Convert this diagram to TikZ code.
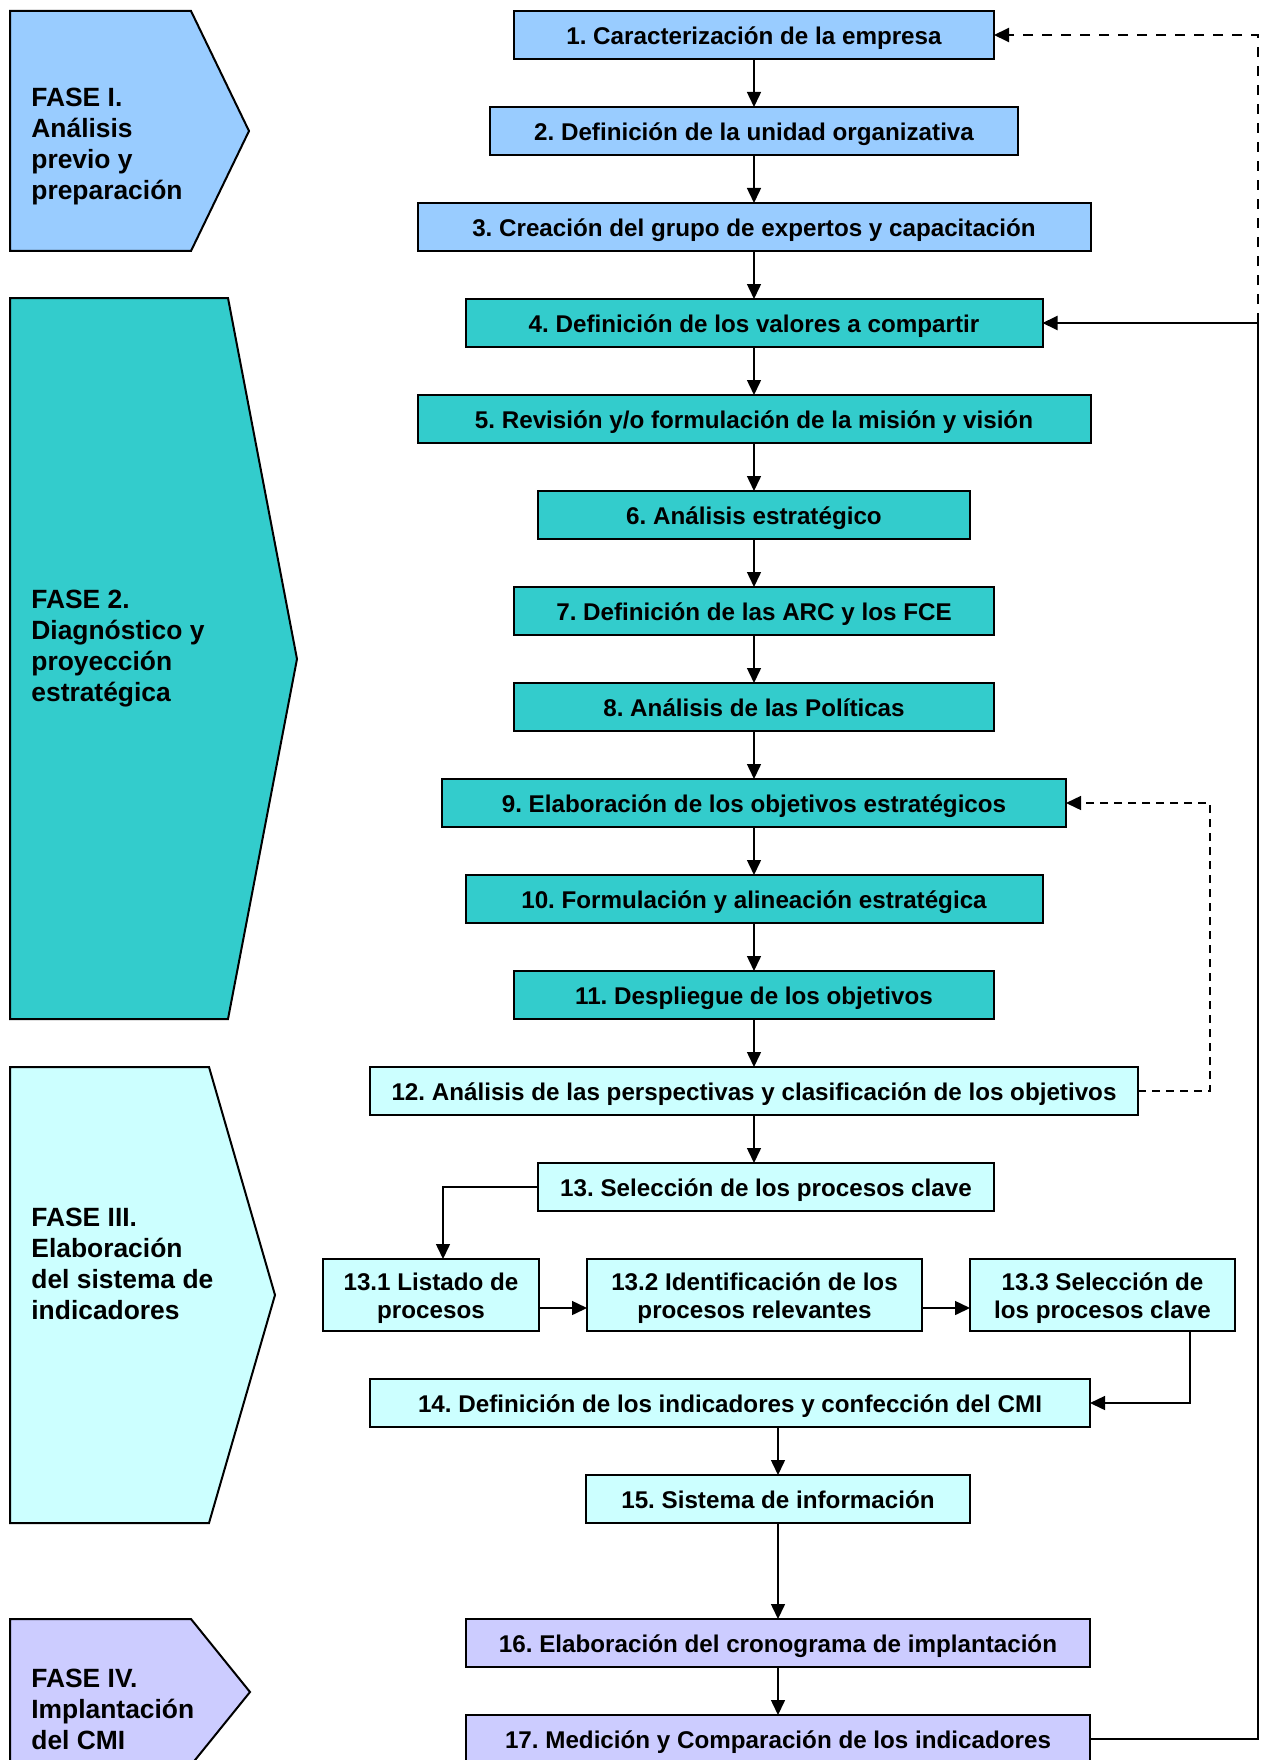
\documentclass[tikz,border=0pt]{standalone}
\usepackage{fontspec}
\setmainfont{Liberation Sans}
\usetikzlibrary{arrows.meta}
\frenchspacing

\definecolor{phaseA}{HTML}{99CCFF}
\definecolor{phaseB}{HTML}{33CCCC}
\definecolor{phaseC}{HTML}{CCFFFF}
\definecolor{phaseD}{HTML}{CCCCFF}

\tikzset{
  stepbox/.style={draw=black, line width=1pt, inner sep=0pt, outer sep=0pt,
    minimum height=24pt, align=center, text height=10.6pt, text depth=0.7pt,
    font=\bfseries\fontsize{12.1}{14}\selectfont},
  twoline/.style={stepbox, minimum height=36pt, text height=29pt, text depth=6pt},
  phase/.style={draw=black, line width=1pt, line join=miter},
  phasetext/.style={anchor=west, inner sep=0pt, align=left,
    font=\bfseries\fontsize{13.2}{15.5}\selectfont},
  flow/.style={line width=0.75pt, -{Triangle[length=7.5pt,width=7pt]}},
  feedback/.style={line width=1pt, -{Triangle[length=7.5pt,width=7pt]}},
  dflow/.style={feedback, dash pattern=on 5pt off 4.5pt},
  dflowthin/.style={line width=0.75pt, -{Triangle[length=7.5pt,width=7pt]},
    dash pattern=on 4pt off 3pt},
}

\begin{document}
\begin{tikzpicture}[x=0.5pt, y=-0.5pt]
\useasboundingbox (0,0) rectangle (1266,1760);
\clip (0,0) rectangle (1266,1760);
\fill[white] (0,0) rectangle (1266,1760);

% phase arrows on the left
\draw[phase, fill=phaseA] (10,11) -- (191,11) -- (249,131) -- (191,251) -- (10,251) -- cycle;
\draw[phase, fill=phaseB] (10,298) -- (228,298) -- (297,659) -- (228,1019) -- (10,1019) -- cycle;
\draw[phase, fill=phaseC] (10,1067) -- (209,1067) -- (275,1295) -- (209,1523) -- (10,1523) -- cycle;
\draw[phase, fill=phaseD] (10,1619) -- (191,1619) -- (250,1692) -- (191,1765) -- (10,1765) -- cycle;

\node[phasetext] (f1) at (31,147) {FASE I.\\Análisis\\previo y\\preparación};
\node[phasetext] (f2) at (31,649) {FASE 2.\\Diagnóstico y\\proyección\\estratégica};
\node[phasetext] (f3) at (31,1264) {FASE III.\\Elaboración\\del sistema de\\indicadores};
\node[phasetext] (f4) at (31,1709) {FASE IV.\\Implantación\\del CMI};

% steps
\node[stepbox, fill=phaseA, minimum width=240pt] (b1) at (754,35) {1. Caracterización de la empresa};
\node[stepbox, fill=phaseA, minimum width=264pt] (b2) at (754,131) {2. Definición de la unidad organizativa};
\node[stepbox, fill=phaseA, minimum width=336.5pt] (b3) at (754,227) {3. Creación del grupo de expertos y capacitación};
\node[stepbox, fill=phaseB, minimum width=288.5pt] (b4) at (754,323) {4. Definición de los valores a compartir};
\node[stepbox, fill=phaseB, minimum width=336.5pt] (b5) at (754,419) {5. Revisión y/o formulación de la misión y visión};
\node[stepbox, fill=phaseB, minimum width=216pt] (b6) at (754,515) {6. Análisis estratégico};
\node[stepbox, fill=phaseB, minimum width=240pt] (b7) at (754,611) {7. Definición de las ARC y los FCE};
\node[stepbox, fill=phaseB, minimum width=240pt] (b8) at (754,707) {8. Análisis de las Políticas};
\node[stepbox, fill=phaseB, minimum width=312pt] (b9) at (754,803) {9. Elaboración de los objetivos estratégicos};
\node[stepbox, fill=phaseB, minimum width=288.5pt] (b10) at (754,899) {10. Formulación y alineación estratégica};
\node[stepbox, fill=phaseB, minimum width=240pt] (b11) at (754,995) {11. Despliegue de los objetivos};
\node[stepbox, fill=phaseC, minimum width=384pt] (b12) at (754,1091) {12. Análisis de las perspectivas y clasificación de los objetivos};
\node[stepbox, fill=phaseC, minimum width=228pt] (b13) at (766,1187) {13. Selección de los procesos clave};
\node[twoline, fill=phaseC, minimum width=108pt] (b131) at (431,1295) {13.1 Listado de\\procesos};
\node[twoline, fill=phaseC, minimum width=167.5pt] (b132) at (754.5,1295) {13.2 Identificación de los\\procesos relevantes};
\node[twoline, fill=phaseC, minimum width=132.5pt] (b133) at (1102.5,1295) {13.3 Selección de\\los procesos clave};
\node[stepbox, fill=phaseC, minimum width=360pt] (b14) at (730,1403) {14. Definición de los indicadores y confección del CMI};
\node[stepbox, fill=phaseC, minimum width=192pt] (b15) at (778,1499) {15. Sistema de información};
\node[stepbox, fill=phaseD, minimum width=312pt] (b16) at (778,1643) {16. Elaboración del cronograma de implantación};
\node[stepbox, fill=phaseD, minimum width=312pt] (b17) at (778,1739) {17. Medición y Comparación de los indicadores};

% main sequence
\foreach \a/\b in {b1/b2, b2/b3, b3/b4, b4/b5, b5/b6, b6/b7, b7/b8, b8/b9, b9/b10, b10/b11, b11/b12}
  \draw[flow] (\a) -- (\b);
\draw[flow] (b12.south) -- (b12.south |- b13.north);
\draw[flow] (b13.west) -| ([xshift=6pt]b131.north);
\draw[flow] ([yshift=-6.5pt]b131.east) -- ([yshift=-6.5pt]b131.east -| b132.west);
\draw[flow] ([yshift=-6.5pt]b132.east) -- ([yshift=-6.5pt]b132.east -| b133.west);
\draw[flow] ([xshift=43.75pt]b133.south) |- (b14.east);
\draw[flow] (b15.north |- b14.south) -- (b15.north);
\draw[flow] (b15) -- (b16);
\draw[flow] (b16) -- (b17);

% feedback loops
\coordinate (fb) at (1258,323);
\coordinate (loop) at (1210,1091);
\draw[feedback] (b17.east) -| (fb) -- (b4.east);
\draw[dflow] (fb) |- (b1.east);
\draw[dflowthin] (b12.east) -| (loop |- b9.east) -- (b9.east);
\end{tikzpicture}
\end{document}
